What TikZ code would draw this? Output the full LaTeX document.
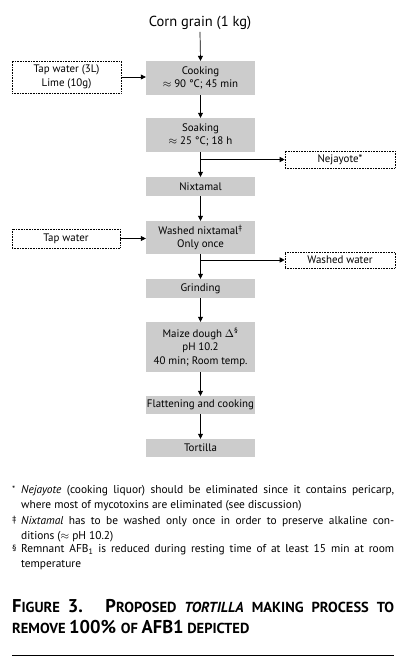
\documentclass[tikz,border=0pt]{standalone}
\usepackage{fontspec}
\setmainfont{PT Sans}
\usetikzlibrary{arrows.meta}
\definecolor{boxgray}{HTML}{CCCCCC}
\newcommand\capL[1]{{\fontsize{18.5}{19}\selectfont #1}}
\begin{document}
\begin{tikzpicture}[x=1pt,y=-1pt,
  proc/.style={fill=boxgray, draw=none, minimum width=109pt, inner sep=0pt, align=center,
    font=\fontsize{10.9}{13.5}\selectfont},
  side/.style={draw, densely dotted, line width=0.6pt, inner sep=0pt, align=center,
    minimum width=109pt, font=\fontsize{10.9}{13.5}\selectfont},
  arr/.style={-{Triangle[length=5pt,width=5pt]}, line width=0.7pt},
  fn/.style={anchor=north west, inner sep=0pt, text width=373pt, align=justify,
    font=\fontsize{11.4}{15.5}\selectfont},
  fnsym/.style={anchor=north west, inner sep=0pt, font=\fontsize{9}{9}\selectfont}]
\useasboundingbox (0,0) rectangle (402,663);

\node[inner sep=0pt, font=\fontsize{14.5}{16}\selectfont] (corn) at (200,23) {Corn grain (1 kg)};
\node[proc, minimum height=34pt] (cook) at (200.5,78) {Cooking\\$\approx$ 90 °C; 45 min};
\node[side, minimum height=32pt] (tap1) at (66.5,77) {Tap water (3L)\\Lime (10g)};
\node[proc, minimum height=34pt] (soak) at (200.5,135) {Soaking\\$\approx$ 25 °C; 18 h};
\node[side, minimum width=110pt, minimum height=17pt] (nej) at (340,159.5) {Nejayote*};
\node[proc, minimum height=19pt] (nix) at (200.5,186.5) {Nixtamal};
\node[proc, minimum height=33pt] (wash) at (200.5,237.5) {Washed nixtamal\textsuperscript{‡}\\Only once};
\node[side, minimum width=108pt, minimum height=19pt] (tap2) at (66,238.5) {Tap water};
\node[side, minimum width=110pt, minimum height=16pt] (ww) at (340,260) {Washed water};
\node[proc, minimum height=19pt] (grind) at (200.5,288.5) {Grinding};
\node[proc, minimum height=50pt] (maize) at (200.5,347) {Maize dough $\Delta$\textsuperscript{§}\\pH 10.2\\40 min; Room temp.};
\node[proc, minimum height=18pt, inner xsep=-2pt] (flat) at (200.5,405) {Flattening and cooking};
\node[proc, minimum height=18pt] (tort) at (200.5,448) {Tortilla};

\draw[arr] (corn.south) ++(0,2) coordinate (c0) -- (cook.north);
\draw[arr] (cook) -- (soak);
\draw[arr] (tap1.east) -- (tap1.east -| cook.west);
\draw[arr] (soak) -- (nix);
\coordinate (b1) at (soak.south |- nej.west);
\draw[arr] (b1) -- (nej.west);
\draw[arr] (nix) -- (wash);
\draw[arr] (tap2.east) -- (tap2.east -| wash.west);
\draw[arr] (wash) -- (grind);
\coordinate (b2) at (wash.south |- ww.west);
\draw[arr] (b2) -- (ww.west);
\draw[arr] (grind) -- (maize);
\draw[arr] (maize) -- (flat);
\draw[arr] (flat) -- (tort);

\node[fnsym] (s1) at (12,486) {*};
\node[fn] (f1) at (21,485) {\textit{Nejayote} (cooking liquor) should be eliminated since it contains pericarp,\linebreak where most of mycotoxins are eliminated (see discussion)};
\node[fnsym] (s2) at (12,516) {‡};
\node[fn] (f2) at (21,516) {\textit{Nixtamal} has to be washed only once in order to preserve alkaline con-\linebreak ditions ($\approx$ pH 10.2)};
\node[fnsym] (s3) at (12,545) {§};
\node[fn] (f3) at (21,544) {Remnant AFB\textsubscript{1} is reduced during resting time of at least 15 min at room\linebreak temperature};

\node[anchor=north west, inner sep=0pt, text width=382pt, align=justify,
  font=\bfseries\fontsize{14.5}{21}\selectfont] (cap) at (12,599)
  {\capL{F}IGURE \capL{3. P}ROPOSED \textit{TORTILLA} MAKING PROCESS TO\linebreak REMOVE \capL{100\% }OF \capL{AFB1} DEPICTED};

\draw[line width=0.8pt] (12,655) coordinate (r0) -- (394,655) coordinate (r1);
\end{tikzpicture}
\end{document}
